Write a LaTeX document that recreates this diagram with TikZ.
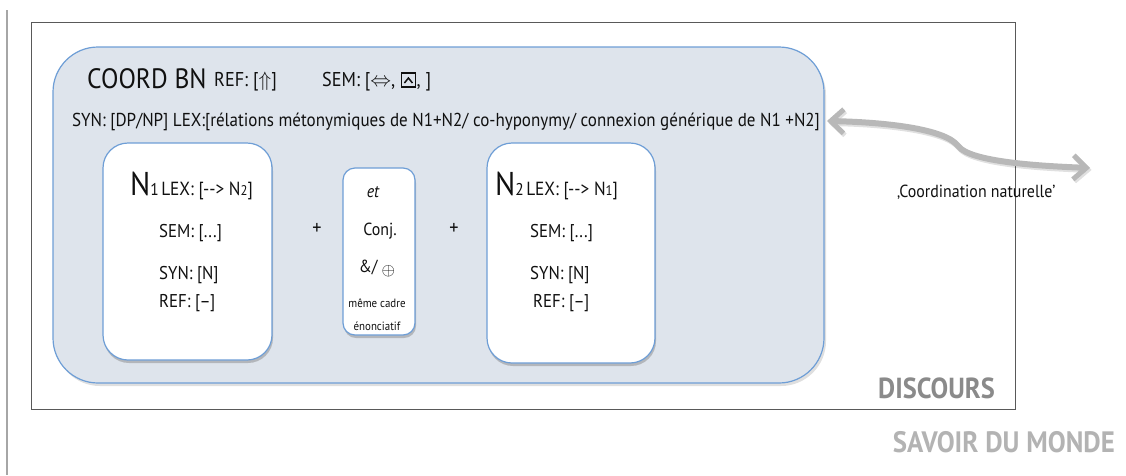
\documentclass[tikz,border=0pt]{standalone}
\usepackage{fontspec}
\setmainfont{PT Sans}[FakeStretch=0.91]
\usetikzlibrary{arrows.meta,shadows}
\definecolor{frameblue}{HTML}{6E9ED6}
\definecolor{panelfill}{HTML}{DEE4EC}
\definecolor{txt}{HTML}{101010}
\definecolor{arrowgray}{HTML}{B8B8B8}
\definecolor{discgray}{HTML}{8A8A8A}
\definecolor{worldgray}{HTML}{B3B3B3}
\newcommand{\fs}[1]{\fontsize{#1}{#1}\selectfont}
\begin{document}
\begin{tikzpicture}[x=1pt,y=-1pt,
  lbl/.style={inner sep=0pt,anchor=base west,text=txt},
  clbl/.style={inner sep=0pt,anchor=base,text=txt},
  panel/.style={draw=frameblue,line width=1.2pt,fill=panelfill,rounded corners=45pt,
    drop shadow={shadow xshift=2pt,shadow yshift=-3pt,opacity=0.25}},
  card/.style={draw=frameblue,line width=1.2pt,fill=white,
    drop shadow={shadow xshift=1pt,shadow yshift=-3pt,opacity=0.45}},
  linkarrow/.style={draw=arrowgray,line width=6pt,
    {Straight Barb[length=13pt,width=24pt,line width=5pt]}-{Straight Barb[length=13pt,width=24pt,line width=5pt]}}
]
\useasboundingbox (0,0) rectangle (1126,475);

% outer rule and discourse frame
\draw[gray!70,line width=1.3pt] (7,10) -- (7,475);
\node[draw=black!65,line width=1pt,minimum width=984pt,minimum height=387pt,inner sep=0pt] (discours) at (523,215.5) {};

% coordination panel
\node[panel,minimum width=771pt,minimum height=336pt,inner sep=0pt] (coord) at (438.5,215) {};

\node[lbl,font=\fs{28}] (title) at (87,88) {COORD BN};
\node[lbl,font=\fs{20}] (ref) at (214,86) {REF: [$\Uparrow$]};
\node[lbl,font=\fs{20}] (sem) at (322,86) {SEM: [$\Leftrightarrow$,};
\begin{scope}[shift={(sem.base east)}]
  \draw[line width=1.5pt,txt] (6,-13) rectangle (20,1);
  \draw[line width=1.5pt,txt] (9,-3) -- (13,-8) -- (17,-3);
  \node[lbl,font=\fs{20}] (semend) at (21,0) {, ]};
\end{scope}
\node[lbl,font=\fs{18.7}] (syn) at (72,126) {SYN: [DP/NP] LEX:[rélations métonymiques de N1+N2/ co-hyponymy/ connexion générique de N1 +N2]};

% first noun
\node[card,rounded corners=25pt,minimum width=169pt,minimum height=217pt] (n1) at (187.5,251.5) {};
\node[lbl] (n1head) at (130,195) {{\fs{33}N}{\fs{17}1} {\fs{19}LEX: [{-}{-}> N{\fs{14}2}]}};
\node[lbl,font=\fs{18.5}] (n1sem) at (159,237) {SEM: [...]};
\node[lbl,font=\fs{18.5}] (n1syn) at (159,279) {SYN: [N]};
\node[lbl,font=\fs{18.5}] (n1ref) at (159,307) {REF: [–]};

% conjunction
\node[card,rounded corners=12pt,minimum width=72pt,minimum height=167pt] (conj) at (379,251.5) {};
\node[clbl,font=\fs{17.5}\itshape] (et) at (373,197) {et};
\node[clbl,font=\fs{17.5}] (conjlbl) at (380,235) {Conj.};
\node[clbl,font=\fs{17.5}] (amp) at (377,272) {\&/ \raisebox{-3pt}{$\oplus$}};
\node[clbl,font=\fs{12}] (cadre) at (377,307) {même cadre};
\node[clbl,font=\fs{12}] (enonc) at (377,330) {énonciatif};

\node[inner sep=0pt,text=txt,font=\fs{20}] (plus1) at (317,229) {+};
\node[inner sep=0pt,text=txt,font=\fs{20}] (plus2) at (454,229) {+};

% second noun
\node[card,rounded corners=25pt,minimum width=168pt,minimum height=220pt] (n2) at (571,253) {};
\node[lbl] (n2head) at (495,195) {{\fs{33}N}{\fs{17}2} {\fs{19}LEX: [{-}{-}> N{\fs{14}1}]}};
\node[lbl,font=\fs{18.5}] (n2sem) at (530,237) {SEM: [...]};
\node[lbl,font=\fs{18.5}] (n2syn) at (530,279) {SYN: [N]};
\node[lbl,font=\fs{18.5}] (n2ref) at (533,307) {REF: [–]};

% link to natural coordination
\coordinate (arrL) at (827,121);
\coordinate (arrR) at (1090,168);
\draw[linkarrow,draw=black,opacity=0.12,transform canvas={xshift=1.5pt,yshift=-2pt}]
  (arrL) .. controls (880,122) and (945,128) .. (958,146) .. controls (970,162) and (1040,166) .. (arrR);
\draw[linkarrow]
  (arrL) .. controls (880,122) and (945,128) .. (958,146) .. controls (970,162) and (1040,166) .. (arrR);
\node[lbl,font=\fs{17.5}] (natural) at (897,197) {‚Coordination naturelle’};

% layer labels
\node[inner sep=0pt,anchor=base east,text=discgray,font=\fs{29}\bfseries] (disclbl) at (995,398) {DISCOURS};
\node[inner sep=0pt,anchor=base east,text=worldgray,font=\fs{29.5}\bfseries] (world) at (1115,452) {SAVOIR DU MONDE};
\end{tikzpicture}
\end{document}
